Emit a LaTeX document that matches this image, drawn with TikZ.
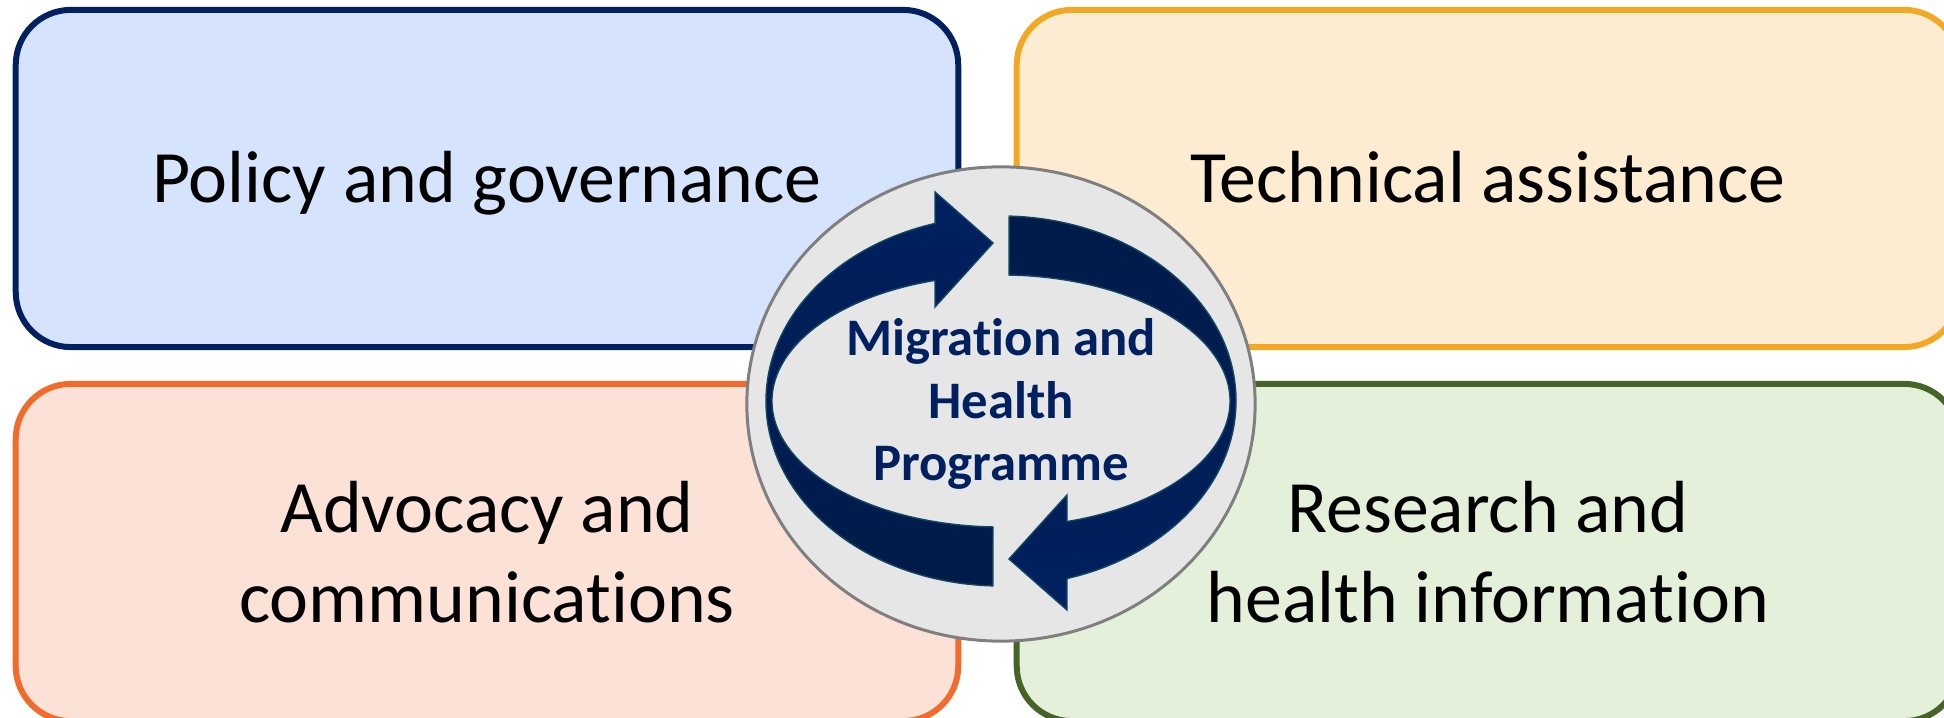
\documentclass[tikz,border=0pt]{standalone}
\usepackage{fontspec}
\setmainfont[Ligatures=NoCommon]{Carlito}
\usetikzlibrary{shapes.geometric}
\definecolor{navy}{HTML}{002060}
\definecolor{navydark}{HTML}{001B48}
\definecolor{arrowline}{HTML}{0F4662}
\definecolor{policyfill}{HTML}{D5E3FC}
\definecolor{techfill}{HTML}{FDECD1}
\definecolor{techline}{HTML}{F3A823}
\definecolor{advofill}{HTML}{FBE1D6}
\definecolor{advoline}{HTML}{F26B2C}
\definecolor{resfill}{HTML}{E5F0DB}
\definecolor{resline}{HTML}{456428}
\definecolor{hubfill}{HTML}{E6E6E6}
\definecolor{hubline}{HTML}{7F7F7F}

\begin{document}
\begin{tikzpicture}[
  x=0.01cm, y=0.01cm,
  area/.style={draw, line width=1.7pt, rounded corners=0.55cm,
    minimum width=9.42cm, minimum height=3.37cm, inner sep=0pt,
    align=center, font=\fontsize{21}{25.6}\selectfont},
  one line/.style={text height=16pt, text depth=2.2pt},
  loop arrow/.style={draw=arrowline, line width=0.4pt},
]
\useasboundingbox (0,0) rectangle (1944,718);
\clip (0,0) rectangle (1944,718);
\node[area, one line, fill=policyfill, draw=navy] (policy) at (487,539.5) {Policy and governance};
\node[area, one line, fill=techfill, draw=techline] (technical) at (1488,539.5) {Technical assistance};
\node[area, fill=advofill, draw=advoline] (advocacy) at (487,165.5) {Advocacy and\\communications};
\node[area, fill=resfill, draw=resline] (research) at (1488,165.5) {Research and\\health information};
\node[ellipse, draw=hubline, fill=hubfill, line width=0.85pt, inner sep=0pt,
  minimum width=5.08cm, minimum height=4.74cm, align=center, text=navy,
  font=\bfseries\fontsize{15}{17.8}\selectfont] (hub) at (1001,314)
  {Migration and\\Health\\Programme};
\path[loop arrow, top color=navy, bottom color=navydark]
  (1001,317) ++(268:235 and 185)
  arc[start angle=268, end angle=106.3, x radius=235, y radius=185]
  -- (935,526) -- (993,475) -- (935,411) -- (935,437.6)
  arc[start angle=106.75, end angle=268, x radius=229, y radius=126] -- cycle;
\path[loop arrow, top color=navydark, bottom color=navy]
  (1001,317) ++(88:235 and 185)
  arc[start angle=88, end angle=-73.7, x radius=235, y radius=185]
  -- (1067,108) -- (1009,159) -- (1067,223) -- (1067,196.4)
  arc[start angle=-73.25, end angle=88, x radius=229, y radius=126] -- cycle;
\end{tikzpicture}
\end{document}
